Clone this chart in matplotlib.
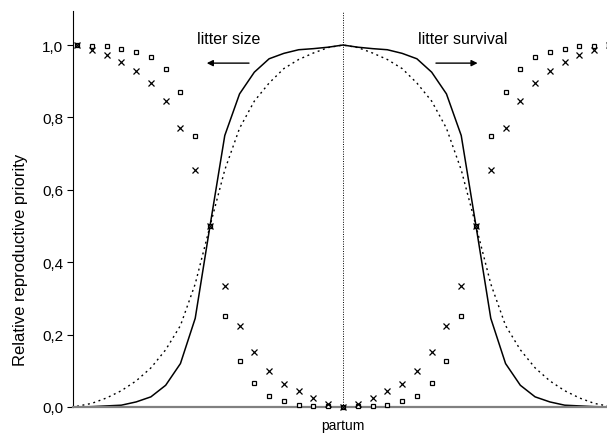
import numpy as np
import matplotlib
matplotlib.use('Agg')
import matplotlib.pyplot as plt
import matplotlib.ticker as ticker

plt.rcParams['font.family'] = ['Liberation Sans', 'DejaVu Sans']

# time steps around partum (0 = partum)
steps = np.arange(-18, 19)

# solid curve (litter size priority)
solid = [0.0, 0.001, 0.003, 0.005, 0.014, 0.028, 0.06, 0.12, 0.245, 0.5,
         0.75, 0.865, 0.925, 0.962, 0.977, 0.987, 0.990, 0.994, 1.0,
         0.994, 0.990, 0.987, 0.977, 0.962, 0.925, 0.865, 0.75,
         0.5, 0.245, 0.12, 0.06, 0.028, 0.014, 0.005, 0.003, 0.001, 0.0]

# dotted curve
dotted = [0.002, 0.01, 0.025, 0.045, 0.072, 0.108, 0.158, 0.225, 0.34, 0.5,
          0.655, 0.77, 0.845, 0.895, 0.935, 0.96, 0.978, 0.993, 1.0,
          0.993, 0.978, 0.96, 0.935, 0.895, 0.845, 0.77, 0.655,
          0.5, 0.34, 0.225, 0.158, 0.108, 0.072, 0.045, 0.025, 0.01, 0.002]

# open squares
squares = [1.0, 0.997, 0.996, 0.99, 0.981, 0.967, 0.933, 0.871, 0.748, 0.5,
           0.252, 0.128, 0.066, 0.031, 0.017, 0.006, 0.004, 0.004, 0.0,
           0.004, 0.004, 0.006, 0.017, 0.031, 0.066, 0.128, 0.252,
           0.5, 0.748, 0.871, 0.933, 0.967, 0.981, 0.99, 0.996, 0.997, 1.0]

# crosses
crosses = [1.0, 0.986, 0.973, 0.952, 0.928, 0.894, 0.846, 0.770, 0.655, 0.5,
           0.334, 0.224, 0.151, 0.099, 0.064, 0.043, 0.024, 0.009, 0.0,
           0.009, 0.024, 0.043, 0.064, 0.099, 0.151, 0.224, 0.334,
           0.5, 0.655, 0.770, 0.846, 0.894, 0.928, 0.952, 0.973, 0.986, 1.0]

yticks = [0.0, 0.2, 0.4, 0.6, 0.8, 1.0]

fig = plt.figure(figsize=(6.07, 4.35), dpi=100)
ax = fig.add_axes([73/607, 27/435, 540/607, 396/435])

ax.plot(steps, solid, color='black', lw=1.1)
ax.plot(steps, dotted, color='black', lw=1.0, dashes=(1.4, 2.6))
ax.plot(steps, squares, ls='none', marker='s', ms=3.5, mfc='white',
        mec='black', mew=0.9, clip_on=False, zorder=4)
ax.plot(steps, crosses, ls='none', marker='x', ms=4.5, color='black',
        mew=0.9, clip_on=False, zorder=4)

ax.axvline(0, color='black', lw=0.7, ls=(0, (1, 1.5)))

ax.set_xlim(-18.27, 18.27)
ax.set_ylim(0, 1.094)
ax.set_yticks(yticks)
ax.yaxis.set_major_formatter(ticker.FuncFormatter(lambda v, p: '{0:.1f}'.format(v).replace('.', ',')))
ax.set_xticks([])
ax.tick_params(axis='y', direction='out', length=4, width=0.8, labelsize=11, pad=3)

for s in ['top', 'right']:
    ax.spines[s].set_visible(False)
ax.spines['left'].set_linewidth(0.8)
ax.spines['bottom'].set_color('#808080')
ax.spines['bottom'].set_linewidth(1.6)

ax.set_xlabel('partum', fontsize=10)
ax.xaxis.set_label_coords(0.5, -0.028)
ax.set_ylabel('Relative reproductive priority', fontsize=12)
ax.yaxis.label.set_va('center')
ax.yaxis.set_label_coords(-52/540, 0.375)

# annotations
ax.text(-7.71, 1.0055, 'litter size', ha='center', va='baseline', fontsize=11.5)
ax.text(8.09, 1.0055, 'litter survival', ha='center', va='baseline', fontsize=11.5)
arrow = dict(arrowstyle='-|>', color='black', lw=1.0, mutation_scale=9,
             shrinkA=0, shrinkB=0)
ax.annotate('', xy=(-9.22, 0.950), xytext=(-6.36, 0.950), arrowprops=arrow)
ax.annotate('', xy=(9.11, 0.950), xytext=(6.29, 0.950), arrowprops=arrow)

fig.savefig('out.png', dpi=100)
